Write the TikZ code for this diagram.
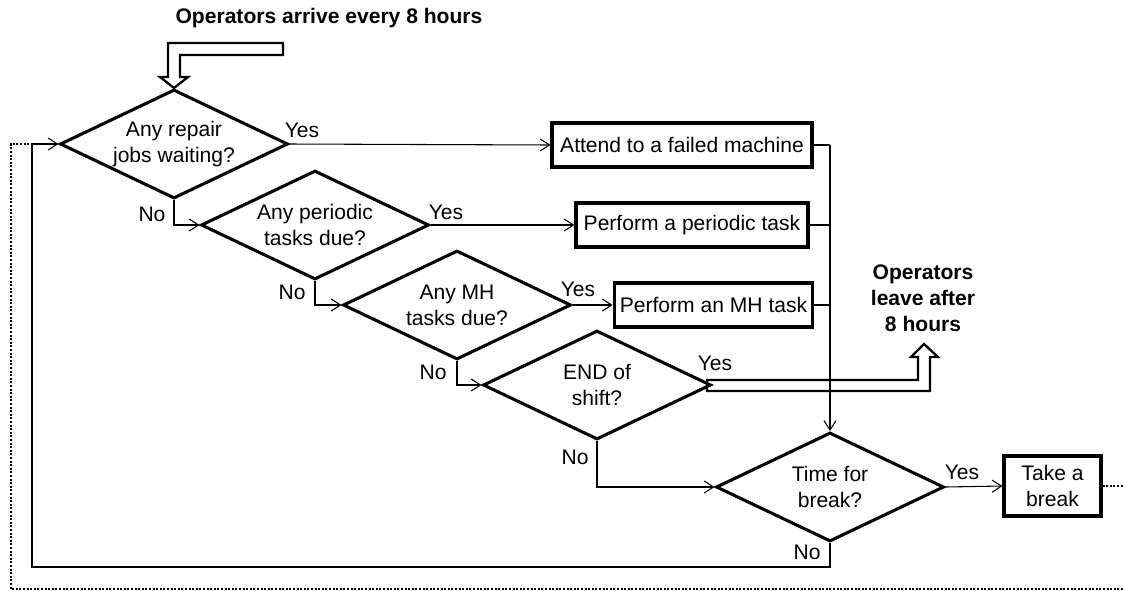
\documentclass[tikz,border=0pt]{standalone}
\usepackage{fontspec}
\setmainfont{Liberation Sans}
\usetikzlibrary{shapes.geometric,arrows.meta}
\begin{document}
\begin{tikzpicture}[x=0.75pt,y=-0.75pt,
  every node/.style={font=\fontsize{15.8pt}{19.5pt}\selectfont},
  dec/.style={diamond, draw, line width=2.3pt, inner sep=0pt, aspect=2.09, minimum width=171pt, minimum height=81.75pt, align=center},
  act/.style={rectangle, draw, line width=2.3pt, inner sep=2pt, minimum height=33pt, align=center},
  conn/.style={line width=0.8pt, -{Straight Barb[length=7pt,width=9pt]}},
  plain/.style={line width=0.8pt},
  hollow/.style={line width=1.7pt, line join=miter},
  loopline/.style={line width=1.9pt, dash pattern=on 1.5pt off 1.2pt},
  lbl/.style={inner sep=0pt},
  boldtext/.style={font=\fontsize{15.8pt}{19.5pt}\selectfont\bfseries, align=center, inner sep=0pt}
]
\useasboundingbox (0,0) rectangle (1123,590);

% decisions
\node[dec] (d1) at (174,144) {Any repair\\jobs waiting?};
\node[dec] (d2) at (315,225) {Any periodic\\tasks due?};
\node[dec] (d3) at (457,305) {Any MH\\tasks due?};
\node[dec] (d4) at (597,385) {END of\\shift?};
\node[dec] (d5) at (830,487) {Time for\\break?};

% actions
\node[act, minimum width=195pt] (b1) at (682,145) {Attend to a failed machine};
\node[act, minimum width=174pt] (b2) at (692,225) {Perform a periodic task};
\node[act, minimum width=149pt] (b3) at (713.5,305) {Perform an MH task};
\node[act, minimum width=72.75pt, minimum height=45pt, inner sep=1pt] (b4) at (1052.5,486) {Take a\\break};

% texts
\node[boldtext] (arrive) at (329,18) {Operators arrive every 8 hours};
\node[boldtext] (leave) at (923,298) {Operators\\leave after\\8 hours};

% yes labels
\node[lbl] (y1) at (302,130) {Yes};
\node[lbl] (y2) at (446,212) {Yes};
\node[lbl] (y3) at (578,289) {Yes};
\node[lbl] (y4) at (715,363) {Yes};
\node[lbl] (y5) at (962,472) {Yes};
% no labels
\node[lbl] (n1) at (152,214) {No};
\node[lbl] (n2) at (292,292) {No};
\node[lbl] (n3) at (433,372) {No};
\node[lbl] (n4) at (575,457) {No};
\node[lbl] (n5) at (807,552) {No};

% yes connectors
\draw[conn] (d1.east) -- (b1.west);
\draw[conn] (d2.east) -- (b2.west);
\draw[conn] (d3.east) -- (b3.west);
\draw[conn] (d5.east) -- (b4.west);

% no connectors
\draw[conn] (d1.south) |- (d2.west);
\draw[conn] (d2.south) |- (d3.west);
\draw[conn] (d3.south) |- (d4.west);
\draw[conn] (d4.south) |- (d5.west);

% collector
\coordinate (c1) at (830,145);
\coordinate (c2) at (830,225);
\coordinate (c3) at (830,305);
\draw[plain] (b1.east) -- (c1);
\draw[plain] (b2.east) -- (c2);
\draw[plain] (b3.east) -- (c3);
\draw[conn] (c1) -- (d5.north);

% loop back
\coordinate (l1) at (830,567);
\coordinate (l2) at (32,567);
\coordinate (l3) at (32,144);
\draw[conn] (d5.south) -- (l1) -- (l2) -- (l3) -- (d1.west);

% dotted loop from break
\coordinate (p1) at (1123,486);
\coordinate (p2) at (1123,589);
\coordinate (p3) at (11,589);
\coordinate (p4) at (11,144);
\coordinate (p5) at (52,144);
\draw[loopline] (b4.east) -- (p1);
\draw[loopline] (p2) -- (p3) -- (p4) -- (p5);

% hollow arrival arrow
\draw[hollow] (283,43) -- (168,43) -- (168,77) -- (160,77) -- (d1.north) -- (188,77) -- (180,77) -- (180,55) -- (283,55) -- cycle;

% hollow leave arrow
\draw[hollow] (707,380) -- (918,380) -- (918,357) -- (911,357) -- (924,344) -- (938,357) -- (930,357) -- (930,391) -- (707,391) -- cycle;

\end{tikzpicture}
\end{document}
